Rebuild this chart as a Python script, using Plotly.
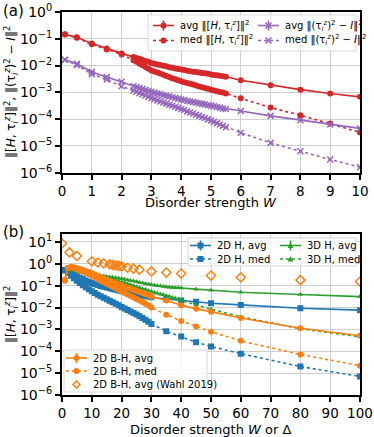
import plotly.graph_objects as go

# ---------------- Panel (a) data ----------------
W_a = [0.1, 0.5, 1.0, 1.5, 2.0,
       2.4, 2.5, 2.6, 2.7, 2.8, 2.9, 3.0, 3.1, 3.2, 3.3, 3.4, 3.5, 3.6, 3.7, 3.8, 3.9,
       4.0, 4.1, 4.2, 4.3, 4.4, 4.5, 4.6, 4.7, 4.8, 4.9, 5.0, 5.1, 5.2, 5.3, 5.4, 5.5,
       6, 7, 8, 9, 10]

comm_avg_a = [0.147, 0.114, 0.066, 0.043, 0.028,
              0.0209, 0.0191, 0.0178, 0.0162, 0.0148, 0.0138, 0.0126, 0.0117, 0.0110, 0.0105,
              0.00977, 0.00933, 0.00871, 0.00832, 0.00776, 0.00741, 0.00708, 0.00676, 0.00646,
              0.00617, 0.00589, 0.00575, 0.00550, 0.00525, 0.00513, 0.00490, 0.00468, 0.00447,
              0.00437, 0.00417, 0.00398, 0.00380,
              0.00282, 0.00186, 0.00126, 0.00091, 0.00068]

comm_med_a = [0.143, 0.110, 0.062, 0.040, 0.026,
              0.0158, 0.0138, 0.0117, 0.0102, 0.00891, 0.00759, 0.00661, 0.00603, 0.00550, 0.00501,
              0.00457, 0.00407, 0.00372, 0.00339, 0.00309, 0.00282, 0.00257, 0.00240, 0.00224,
              0.00209, 0.00195, 0.00182, 0.00166, 0.00155, 0.00145, 0.00135, 0.00126, 0.00117,
              0.00110, 0.00102, 0.000977, 0.000912,
              0.0006, 0.00027, 0.00014, 6.9e-5, 3.2e-5]

sq_avg_a = [0.0166, 0.0117, 0.0058, 0.0037, 0.0025,
            0.0017, 0.00158, 0.00145, 0.00135, 0.00123, 0.00115, 0.00105, 0.000977, 0.000912,
            0.000851, 0.000794, 0.000741, 0.000708, 0.000661, 0.000617, 0.000575, 0.000537,
            0.000513, 0.000479, 0.000457, 0.000437, 0.000407, 0.000389, 0.000372, 0.000355,
            0.000331, 0.000316, 0.000302, 0.000282, 0.000269, 0.000251, 0.000240,
            0.0002, 0.000132, 9.1e-5, 6.3e-5, 4.5e-5]

sq_med_a = [0.0166, 0.0102, 0.0048, 0.0030, 0.0017,
            0.00117, 0.00105, 0.000933, 0.000851, 0.000759, 0.000676, 0.000603, 0.00055,
            0.000501, 0.000457, 0.000417, 0.00038, 0.000347, 0.000316, 0.000288, 0.000263,
            0.00024, 0.000219, 0.000195, 0.000178, 0.000162, 0.000145, 0.000132, 0.00012,
            0.00011, 9.8e-5, 8.9e-5, 7.9e-5, 7.1e-5, 6.3e-5, 5.6e-5, 5.0e-5,
            3.1e-5, 1.3e-5, 6.3e-6, 3.1e-6, 1.6e-6]

# ---------------- Panel (b) data ----------------
W_2dH = [1, 2, 3, 4, 5, 6, 7, 8, 9, 10, 11, 12, 13, 14, 15, 16, 17, 18, 19, 20,
         21, 22, 23, 24, 25, 26, 27, 28, 29, 30, 35, 40, 45, 50, 60, 80, 100]
h2d_avg = [0.525, 0.437, 0.372, 0.316, 0.269, 0.229, 0.2, 0.174, 0.151, 0.132,
           0.117, 0.107, 0.0977, 0.0891, 0.0832, 0.0759, 0.0708, 0.0646, 0.0603, 0.0562,
           0.0525, 0.049, 0.0457, 0.0427, 0.0398, 0.038, 0.0355, 0.0331, 0.0316, 0.0295,
           0.0245, 0.0209, 0.0186, 0.0158, 0.0132, 0.0093, 0.0076]
h2d_med = [0.501, 0.38, 0.288, 0.219, 0.17, 0.132, 0.105, 0.0851, 0.0692, 0.0562,
           0.0468, 0.0389, 0.0331, 0.0282, 0.024, 0.0204, 0.0174, 0.0148, 0.0126, 0.0107,
           0.00912, 0.00776, 0.00661, 0.00562, 0.00479, 0.00398, 0.00331, 0.00275, 0.00224, 0.00178,
           0.00083, 0.00047, 0.00026, 0.000166, 7.8e-5, 2.0e-5, 7.1e-6]

W_3dH = [2, 3, 4, 5, 6, 7, 8, 9, 10, 11, 12, 13, 14, 15, 16, 17, 18, 19, 20, 21,
         22, 23, 24, 25, 26, 27, 28, 29, 30, 31, 32, 33, 34, 35, 36, 37, 38, 39, 40,
         45, 50, 60, 80, 100]
h3d_avg = [0.562, 0.537, 0.501, 0.468, 0.437, 0.407, 0.38, 0.355, 0.331, 0.316,
           0.302, 0.288, 0.275, 0.263, 0.251, 0.24, 0.229, 0.219, 0.209, 0.195,
           0.182, 0.174, 0.162, 0.151, 0.141, 0.132, 0.123, 0.117, 0.11, 0.105,
           0.1, 0.0955, 0.0912, 0.0871, 0.0851, 0.0832, 0.0813, 0.0794, 0.0776,
           0.0692, 0.0617, 0.0501, 0.0398, 0.0316]
h3d_med = [0.562, 0.525, 0.49, 0.447, 0.417, 0.389, 0.355, 0.331, 0.302, 0.282,
           0.269, 0.251, 0.234, 0.219, 0.204, 0.186, 0.174, 0.158, 0.148, 0.135,
           0.123, 0.11, 0.1, 0.0891, 0.0813, 0.0724, 0.0661, 0.0589, 0.0537, 0.049,
           0.0447, 0.0407, 0.038, 0.0347, 0.0316, 0.0288, 0.0263, 0.024, 0.0219,
           0.0132, 0.0083, 0.0038, 0.00107, 0.00046]

W_bh = [1, 2, 3, 4, 5, 6, 7, 8, 9, 10, 11, 12, 13, 14, 15, 16, 17, 18, 19, 20,
        21, 22, 23, 24, 25, 26, 27, 28, 29, 30, 35, 40, 45, 50, 60, 80, 100]
bh_avg = [0.19, 0.661, 0.741, 0.692, 0.631, 0.575, 0.525, 0.468, 0.417, 0.372,
          0.324, 0.282, 0.245, 0.214, 0.186, 0.166, 0.145, 0.129, 0.115, 0.102,
          0.0912, 0.0813, 0.0724, 0.0646, 0.0575, 0.0513, 0.0457, 0.0407, 0.0363, 0.0316,
          0.0209, 0.0129, 0.0087, 0.0065, 0.0033, 0.00112, 0.00051]
bh_med = [0.166, 0.631, 0.692, 0.631, 0.562, 0.501, 0.437, 0.38, 0.331, 0.282,
          0.24, 0.204, 0.17, 0.145, 0.123, 0.105, 0.0891, 0.0759, 0.0646, 0.055,
          0.0468, 0.0398, 0.0339, 0.0288, 0.0245, 0.0209, 0.0178, 0.0151, 0.0126, 0.01,
          0.0047, 0.00245, 0.00135, 0.00079, 0.0003, 7.1e-5, 2.2e-5]

W_wahl = [0, 2.5, 5, 10, 12, 14, 16, 17, 18, 19, 20, 22, 24, 26, 30, 35, 40, 50, 60, 80, 100]
wahl_avg = [8.5, 3.3, 2.3, 1.3, 1.15, 1.05, 0.95, 0.9, 0.85, 0.8, 0.76, 0.66, 0.6, 0.54,
            0.45, 0.4, 0.36, 0.29, 0.24, 0.18, 0.155]

y_tick_vals_a = [1e-6, 1e-5, 1e-4, 1e-3, 1e-2, 1e-1, 1]
y_tick_text_a = ["10<sup>−6</sup>", "10<sup>−5</sup>", "10<sup>−4</sup>", "10<sup>−3</sup>",
                 "10<sup>−2</sup>", "10<sup>−1</sup>", "10<sup>0</sup>"]
y_tick_vals_b = [1e-6, 1e-5, 1e-4, 1e-3, 1e-2, 1e-1, 1, 10]
y_tick_text_b = y_tick_text_a + ["10<sup>1</sup>"]
x_ticks_a = [0, 1, 2, 3, 4, 5, 6, 7, 8, 9, 10]
x_ticks_b = [0, 10, 20, 30, 40, 50, 60, 70, 80, 90, 100]

RED = "#d62728"
PURPLE = "#9467bd"
BLUE = "#1f77b4"
ORANGE = "#ff7f0e"
GREEN = "#2ca02c"

FONT = "DejaVu Sans"
TAU = "τ<sub><i>i</i></sub><sup><i>z</i></sup>"

# ---- figure geometry (pixels) ----
W_FIG, H_FIG = 374, 437
ML, MR, MT, MB = 62, 14, 12, 42
PW = W_FIG - ML - MR
PH = H_FIG - MT - MB


def px(x):
    return (x - ML) / PW


def py(y):
    return (H_FIG - MB - y) / PH


fig = go.Figure()


def add(x, y, name, color, dash, symbol, xa, ya, msize=6, open_=False):
    mk = dict(symbol=symbol, size=msize, color=color)
    if symbol.startswith("x-thin") or open_:
        mk["line"] = dict(color=color, width=1.5)
    fig.add_trace(go.Scatter(
        x=x, y=y, name=name, mode="lines+markers" if dash is not None else "markers",
        line=dict(color=color, width=1.6, dash=dash if dash else "solid"),
        marker=mk, xaxis=xa, yaxis=ya, showlegend=False, cliponaxis=True))


# panel (a)
add(W_a, comm_avg_a, "avg commutator", RED, "solid", "circle", "x", "y")
add(W_a, comm_med_a, "med commutator", RED, "dot", "circle", "x", "y")
add(W_a, sq_avg_a, "avg square", PURPLE, "solid", "x-thin", "x", "y")
add(W_a, sq_med_a, "med square", PURPLE, "dot", "x-thin", "x", "y")

# panel (b)
add(W_2dH, h2d_avg, "2D H, avg", BLUE, "solid", "square", "x2", "y2")
add(W_2dH, h2d_med, "2D H, med", BLUE, "dot", "square", "x2", "y2")
add(W_3dH, h3d_avg, "3D H, avg", GREEN, "solid", "triangle-up", "x2", "y2", msize=5)
add(W_3dH, h3d_med, "3D H, med", GREEN, "dot", "triangle-up", "x2", "y2", msize=5)
add(W_bh, bh_avg, "2D B-H, avg", ORANGE, "solid", "circle", "x2", "y2")
add(W_bh, bh_med, "2D B-H, med", ORANGE, "dot", "circle", "x2", "y2")
add(W_wahl, wahl_avg, "2D B-H, avg (Wahl 2019)", ORANGE, None, "diamond-open", "x2", "y2",
    msize=7, open_=True)

axis_common = dict(showline=True, linewidth=2, linecolor="black", mirror=True,
                   ticks="outside", ticklen=5, tickwidth=1.5, tickcolor="black",
                   showgrid=True, gridcolor="#cfcfcf", gridwidth=1, zeroline=False,
                   automargin=False,
                   tickfont=dict(family=FONT, size=14, color="black"))

fig.update_layout(
    width=W_FIG, height=H_FIG, autosize=False,
    margin=dict(l=ML, r=MR, t=MT, b=MB, pad=0, autoexpand=False),
    paper_bgcolor="white", plot_bgcolor="white",
    font=dict(family=FONT, size=10, color="black"),
    showlegend=False,
    xaxis=dict(domain=[0, 1], anchor="y", range=[0, 10], tickvals=x_ticks_a, **axis_common),
    yaxis=dict(domain=[py(172.7), 1], anchor="x", type="log", range=[-6, 0],
               tickvals=y_tick_vals_a, ticktext=y_tick_text_a, **axis_common),
    xaxis2=dict(domain=[0, 1], anchor="y2", range=[0, 100], tickvals=x_ticks_b, **axis_common),
    yaxis2=dict(domain=[0, py(234.3)], anchor="x2", type="log", range=[-6, 1.35],
                tickvals=y_tick_vals_b, ticktext=y_tick_text_b, **axis_common),
)
fig.update_xaxes(tickfont=dict(family=FONT, size=13.5, color="black"))

# ---- hand-drawn legends (boxes, line samples, marker samples, labels) ----
shapes = []
anns = []


def legend_box(x0, y0, x1, y1):
    shapes.append(dict(type="rect", xref="paper", yref="paper",
                       x0=px(x0), x1=px(x1), y0=py(y0), y1=py(y1),
                       fillcolor="rgba(255,255,255,0.8)", line=dict(color="#d9d9d9", width=1),
                       layer="above"))


def marker_shape(xc, yc, symbol, color):
    base = dict(xref="paper", yref="paper", xsizemode="pixel", ysizemode="pixel",
                xanchor=px(xc), yanchor=py(yc), layer="above")
    if symbol == "circle":
        shapes.append(dict(type="circle", x0=-3, x1=3, y0=-3, y1=3,
                           fillcolor=color, line=dict(color=color, width=0), **base))
    elif symbol == "square":
        shapes.append(dict(type="rect", x0=-3, x1=3, y0=-3, y1=3,
                           fillcolor=color, line=dict(color=color, width=0), **base))
    elif symbol == "triangle":
        shapes.append(dict(type="path", path="M -3 -2.5 L 3 -2.5 L 0 3 Z",
                           fillcolor=color, line=dict(color=color, width=0), **base))
    elif symbol == "x":
        shapes.append(dict(type="path", path="M -3 -3 L 3 3 M -3 3 L 3 -3",
                           line=dict(color=color, width=1.5), **base))
    elif symbol == "diamond-open":
        shapes.append(dict(type="path", path="M 0 -3.5 L 3.5 0 L 0 3.5 L -3.5 0 Z",
                           fillcolor="rgba(0,0,0,0)", line=dict(color=color, width=1.5), **base))


def legend_entry(x0, y, color, dash, symbol, text, errbar=True):
    if dash is not None:
        shapes.append(dict(type="line", xref="paper", yref="paper",
                           x0=px(x0), x1=px(x0 + 21), y0=py(y), y1=py(y),
                           line=dict(color=color, width=1.6, dash=dash), layer="above"))
    if errbar and dash == "solid":
        shapes.append(dict(type="line", xref="paper", yref="paper",
                           x0=px(x0 + 10.5), x1=px(x0 + 10.5), y0=py(y - 5), y1=py(y + 5),
                           line=dict(color=color, width=1.6), layer="above"))
    marker_shape(x0 + 10.5, y, symbol, color)
    anns.append(dict(text=text, x=px(x0 + 25), y=py(y), xanchor="left", yanchor="middle",
                     font=dict(size=10)))


# panel (a) legend
legend_box(148, 15, 356, 51)
legend_entry(153, 25.5, RED, "solid", "circle", f"avg ‖[<i>H</i>, {TAU}]‖<sup>2</sup>")
legend_entry(153, 40.5, RED, "dot", "circle", f"med ‖[<i>H</i>, {TAU}]‖<sup>2</sup>")
legend_entry(258, 25.5, PURPLE, "solid", "x", f"avg ‖({TAU})<sup>2</sup> − <i>I</i>‖<sup>2</sup>")
legend_entry(258, 40.5, PURPLE, "dot", "x", f"med ‖({TAU})<sup>2</sup> − <i>I</i>‖<sup>2</sup>")

# panel (b) top-right legend
legend_box(188, 238, 356, 266)
legend_entry(190, 245.5, BLUE, "solid", "square", "2D H, avg")
legend_entry(190, 259, BLUE, "dot", "square", "2D H, med")
legend_entry(280, 245.5, GREEN, "solid", "triangle", "3D H, avg")
legend_entry(280, 259, GREEN, "dot", "triangle", "3D H, med")

# panel (b) bottom-left legend
legend_box(64, 350, 207, 392)
legend_entry(66, 358, ORANGE, "solid", "circle", "2D B-H, avg")
legend_entry(66, 371, ORANGE, "dot", "circle", "2D B-H, med")
legend_entry(66, 384.5, ORANGE, None, "diamond-open", "2D B-H, avg (Wahl 2019)")

anns += [
    dict(text="(a)", x=px(1), y=py(11), xanchor="left", yanchor="middle", font=dict(size=15)),
    dict(text="(b)", x=px(1), y=py(232), xanchor="left", yanchor="middle", font=dict(size=15)),
    dict(text="Disorder strength <i>W</i>", x=0.5, y=py(202.5), xanchor="center", yanchor="middle",
         font=dict(size=13)),
    dict(text="Disorder strength <i>W</i> or Δ", x=0.5, y=py(429), xanchor="center", yanchor="middle",
         font=dict(size=13)),
    dict(text=f"‖[<i>H</i>, {TAU}]‖<sup>2</sup>, ‖({TAU})<sup>2</sup> − <i>I</i>‖<sup>2</sup>",
         x=px(11), y=py(92), xanchor="center", yanchor="middle", textangle=-90, font=dict(size=12)),
    dict(text=f"‖[<i>H</i>, {TAU}]‖<sup>2</sup>",
         x=px(11), y=py(315), xanchor="center", yanchor="middle", textangle=-90, font=dict(size=12)),
]
for a in anns:
    a.update(xref="paper", yref="paper", showarrow=False)
    a["font"] = dict(family=FONT, color="black", **a["font"])

fig.update_layout(shapes=shapes, annotations=anns)

fig.write_html(
    "out.html",
    config={"displayModeBar": False, "responsive": False},
    post_script=("document.body.style.margin='0';document.body.style.padding='0';"
                 "document.body.style.overflow='hidden';"
                 "document.documentElement.style.overflow='hidden';"),
)
